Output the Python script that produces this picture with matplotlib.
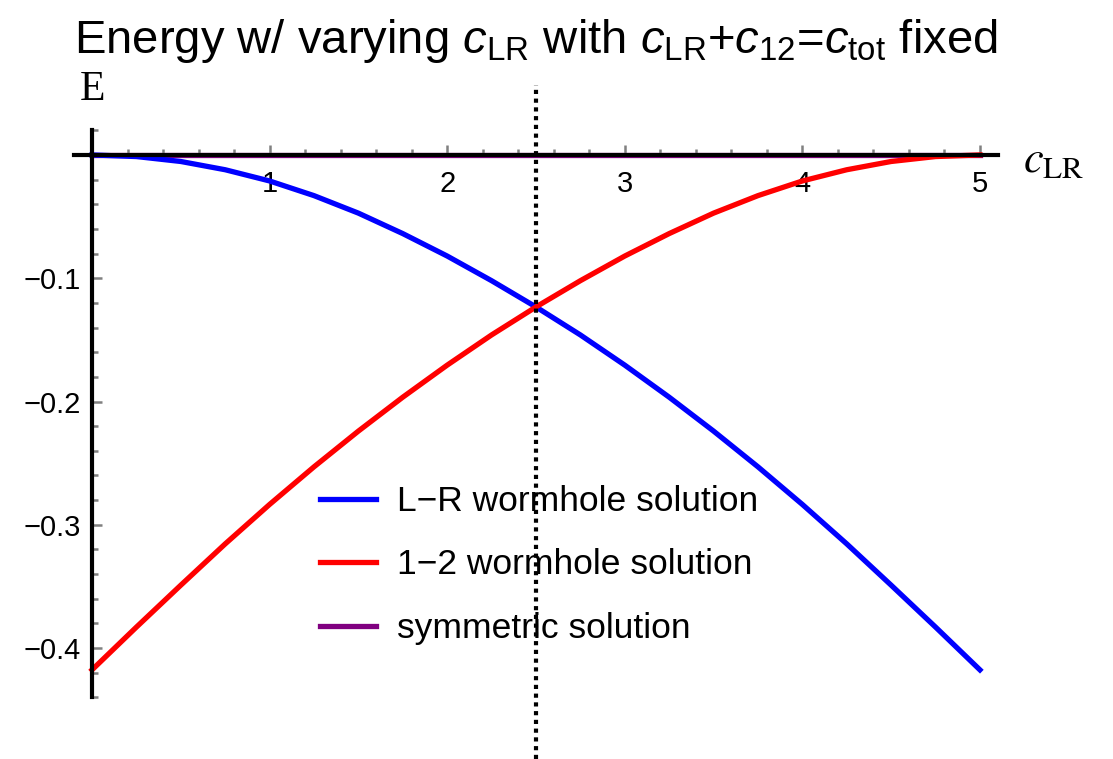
import numpy as np
import matplotlib
matplotlib.use("Agg")
import matplotlib.pyplot as plt

plt.rcParams['font.family'] = ['Liberation Sans', 'DejaVu Sans']
plt.rcParams['mathtext.fontset'] = 'custom'
plt.rcParams['mathtext.rm'] = 'Liberation Sans'
plt.rcParams['mathtext.it'] = 'Liberation Sans:italic'
plt.rcParams['mathtext.bf'] = 'Liberation Sans:bold'

# energies of the two wormhole branches vs c_LR (c_tot = 5)
c_lr = [0.0, 0.25, 0.5, 0.75, 1.0, 1.25, 1.5, 1.75, 2.0, 2.25, 2.5,
        2.75, 3.0, 3.25, 3.5, 3.75, 4.0, 4.25, 4.5, 4.75, 5.0]
e_lr = [0.0, -0.0013, -0.0053, -0.0120, -0.0211, -0.0330, -0.0472, -0.0638,
        -0.0820, -0.1020, -0.1233, -0.1460, -0.1705, -0.1965, -0.2240,
        -0.2530, -0.2835, -0.3155, -0.3490, -0.3830, -0.4177]
e_12 = [-0.4177, -0.3830, -0.3490, -0.3155, -0.2835, -0.2530, -0.2240,
        -0.1965, -0.1705, -0.1460, -0.1233, -0.1020, -0.0820, -0.0638,
        -0.0472, -0.0330, -0.0211, -0.0120, -0.0053, -0.0013, 0.0]
sym_x = [0.0, 5.0]
sym_e = [0.0, 0.0]
c_mid = 2.5

x_major = [1, 2, 3, 4, 5]
y_major = [-0.4, -0.3, -0.2, -0.1]

fig = plt.figure(figsize=(11.13, 7.59), dpi=100)
ax = fig.add_axes([0.05076, 0.0, 0.8616, 0.8933])
ax.set_xlim(-0.2, 5.2)
ax.set_ylim(-0.49, 0.06)

ax.plot(c_lr, e_lr, color='#0000ff', lw=3.8, label='L\u2212R wormhole solution',
        solid_joinstyle='round')
ax.plot(c_lr, e_12, color='#ff0000', lw=3.8, label='1\u22122 wormhole solution',
        solid_joinstyle='round')
ax.plot(sym_x, sym_e, color='#800080', lw=3.8, label='symmetric solution', zorder=1)
ax.plot([c_mid, c_mid], [-0.49, 0.057], color='black', lw=3.0,
        linestyle=(0, (1, 1.1)), dash_capstyle='butt', clip_on=False, zorder=5)

# axes through the origin
for s in ['top', 'right']:
    ax.spines[s].set_visible(False)
ax.spines['left'].set_position(('data', 0))
ax.spines['bottom'].set_position(('data', 0))
ax.spines['left'].set_bounds(-0.44, 0.02)
ax.spines['bottom'].set_bounds(-0.1, 5.1)
for s in ['left', 'bottom']:
    ax.spines[s].set_linewidth(3.0)
    ax.spines[s].set_zorder(3)

ax.set_xticks(x_major)
ax.set_xticks([v for v in np.arange(0.2, 5.0, 0.2) if abs(v - round(v)) > 1e-6], minor=True)
ax.set_yticks(y_major)
ax.set_yticks([v for v in np.arange(-0.44, 0.03, 0.02)
               if abs(v * 10 - round(v * 10)) > 1e-6], minor=True)
ax.set_xticklabels([str(v) for v in x_major])
ax.set_yticklabels(['\u22120.4', '\u22120.3', '\u22120.2', '\u22120.1'])
ax.tick_params(which='both', direction='in', color='#808080', width=1.8,
               labelcolor='black', labelsize=21)
ax.tick_params(axis='x', pad=11)
ax.tick_params(axis='y', pad=8)
ax.tick_params(which='major', length=7.5)
ax.tick_params(which='minor', length=4.5)

ax.text(5.242, -0.0138, r'$c_{\mathrm{LR}}$', fontsize=32, math_fontfamily='stix',
        ha='left', va='baseline')
ax.text(-0.068, 0.0446, 'E', fontsize=30, family='Liberation Serif',
        ha='left', va='baseline')

fig.text(536 / 1113, 1 - 53 / 759,
         r'Energy w/ varying $c_{\mathrm{LR}}$ with $c_{\mathrm{LR}}$+$c_{12}$=$c_{\mathrm{tot}}$ fixed',
         fontsize=34, ha='center', va='baseline')

leg = ax.legend(loc='upper left', bbox_to_anchor=(320 / 1113, 1 - 485 / 759),
                bbox_transform=fig.transFigure, frameon=False, fontsize=25.5,
                handlelength=1.58, handletextpad=0.6, labelspacing=0.86,
                borderpad=0, borderaxespad=0)

fig.savefig('out.png', dpi=100)
